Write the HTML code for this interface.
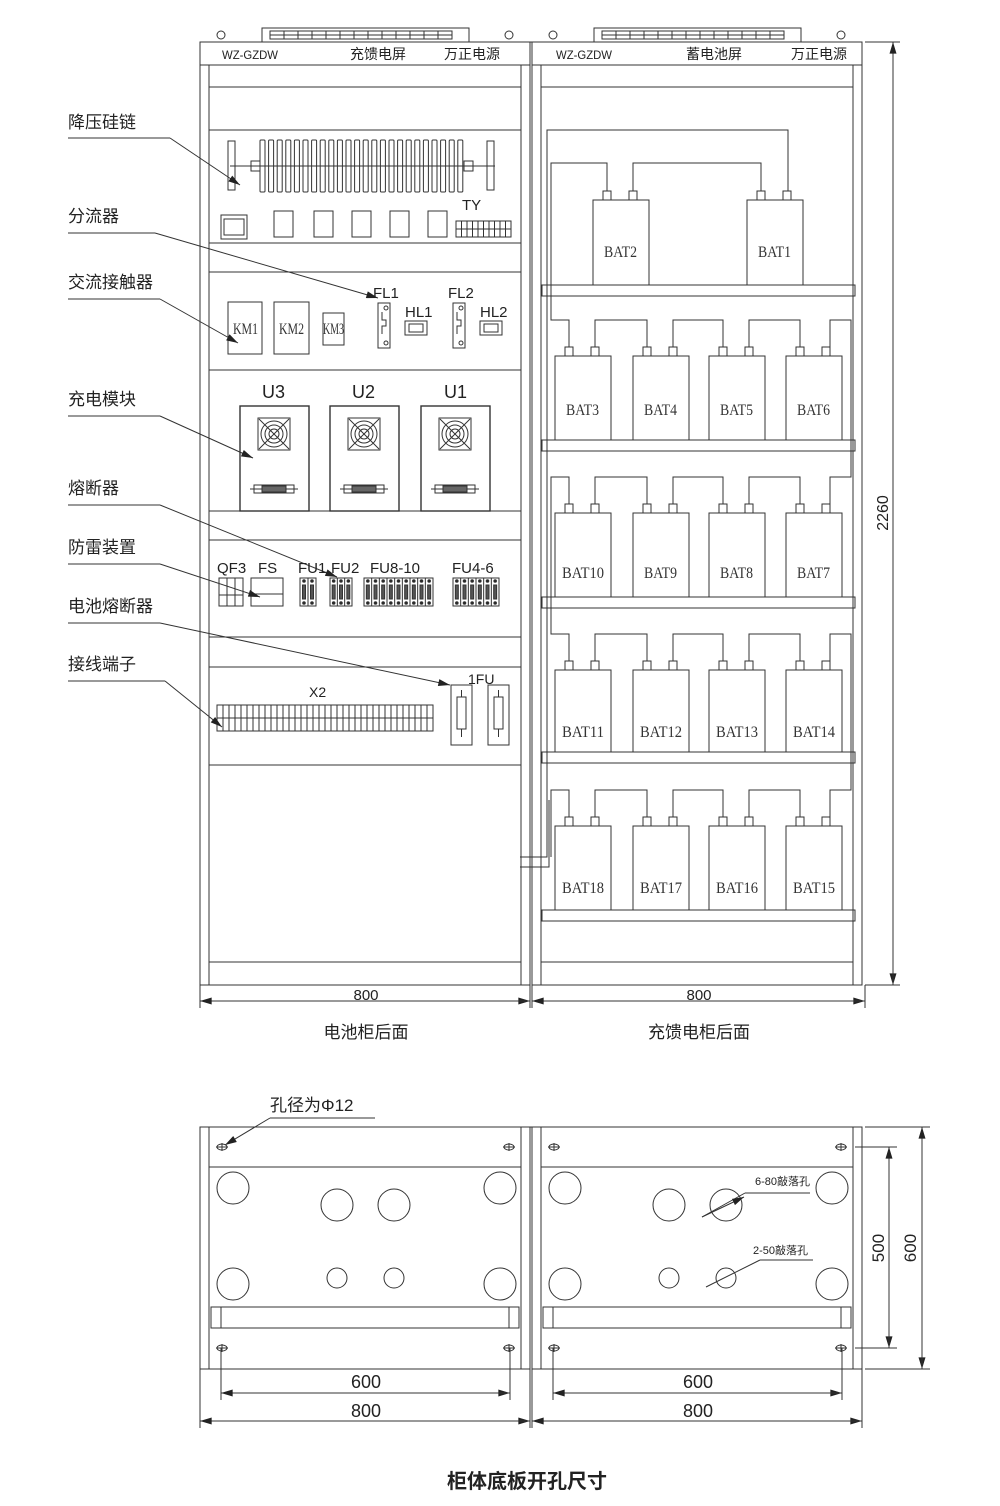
<!DOCTYPE html>
<html><head><meta charset="utf-8"><style>
html,body{margin:0;padding:0;background:#fff}
svg{display:block}
text{font-family:"Liberation Sans","Noto Sans CJK SC",sans-serif;fill:#222}
.cn{font-size:17px}
.bat{font-family:"Liberation Serif","Noto Serif CJK SC",serif;font-size:16px;fill:#333}
</style></head><body>
<svg id="s" width="1000" height="1506" viewBox="0 0 1000 1506" xmlns="http://www.w3.org/2000/svg" fill="none" stroke="#333" stroke-width="1">
<defs>
<marker id="ar" viewBox="0 0 10 6" refX="10" refY="3" markerWidth="16" markerHeight="7" orient="auto" markerUnits="userSpaceOnUse"><path d="M0,0 L10,3 L0,6 Z" fill="#222" stroke="none"/></marker>
</defs>
<g id="g"></g>
<g stroke="none">
<text x="222" y="59" font-size="12" textLength="56" lengthAdjust="spacingAndGlyphs">WZ-GZDW</text>
<text x="350" y="59" font-size="14">充馈电屏</text>
<text x="444" y="59" font-size="14">万正电源</text>
<text x="556" y="59" font-size="12" textLength="56" lengthAdjust="spacingAndGlyphs">WZ-GZDW</text>
<text x="686" y="59" font-size="14">蓄电池屏</text>
<text x="791" y="59" font-size="14">万正电源</text>
<text class="cn" x="68" y="128">降压硅链</text>
<text class="cn" x="68" y="222">分流器</text>
<text class="cn" x="68" y="288">交流接触器</text>
<text class="cn" x="68" y="405">充电模块</text>
<text class="cn" x="68" y="494">熔断器</text>
<text class="cn" x="68" y="553">防雷装置</text>
<text class="cn" x="68" y="612">电池熔断器</text>
<text class="cn" x="68" y="670">接线端子</text>
<text x="462" y="210" font-size="15">TY</text>
<text x="373" y="298" font-size="15">FL1</text>
<text x="448" y="298" font-size="15">FL2</text>
<text x="405" y="317" font-size="15">HL1</text>
<text x="480" y="317" font-size="15">HL2</text>
<text class="bat" x="233" y="334" textLength="25" lengthAdjust="spacingAndGlyphs">KM1</text>
<text class="bat" x="279" y="334" textLength="25" lengthAdjust="spacingAndGlyphs">KM2</text>
<text class="bat" x="323" y="334" textLength="21" lengthAdjust="spacingAndGlyphs">KM3</text>
<text x="262" y="398" font-size="18">U3</text>
<text x="352" y="398" font-size="18">U2</text>
<text x="444" y="398" font-size="18">U1</text>
<text x="217" y="573" font-size="15">QF3</text>
<text x="258" y="573" font-size="15">FS</text>
<text x="298" y="573" font-size="15">FU1</text>
<text x="331" y="573" font-size="15">FU2</text>
<text x="370" y="573" font-size="15">FU8-10</text>
<text x="452" y="573" font-size="15">FU4-6</text>
<text x="309" y="697" font-size="14">X2</text>
<text x="468" y="684" font-size="14">1FU</text>
<text class="bat" x="604" y="257" textLength="33" lengthAdjust="spacingAndGlyphs">BAT2</text>
<text class="bat" x="758" y="257" textLength="33" lengthAdjust="spacingAndGlyphs">BAT1</text>
<text class="bat" x="566" y="415" textLength="33" lengthAdjust="spacingAndGlyphs">BAT3</text>
<text class="bat" x="644" y="415" textLength="33" lengthAdjust="spacingAndGlyphs">BAT4</text>
<text class="bat" x="720" y="415" textLength="33" lengthAdjust="spacingAndGlyphs">BAT5</text>
<text class="bat" x="797" y="415" textLength="33" lengthAdjust="spacingAndGlyphs">BAT6</text>
<text class="bat" x="562" y="578" textLength="42" lengthAdjust="spacingAndGlyphs">BAT10</text>
<text class="bat" x="644" y="578" textLength="33" lengthAdjust="spacingAndGlyphs">BAT9</text>
<text class="bat" x="720" y="578" textLength="33" lengthAdjust="spacingAndGlyphs">BAT8</text>
<text class="bat" x="797" y="578" textLength="33" lengthAdjust="spacingAndGlyphs">BAT7</text>
<text class="bat" x="562" y="737" textLength="42" lengthAdjust="spacingAndGlyphs">BAT11</text>
<text class="bat" x="640" y="737" textLength="42" lengthAdjust="spacingAndGlyphs">BAT12</text>
<text class="bat" x="716" y="737" textLength="42" lengthAdjust="spacingAndGlyphs">BAT13</text>
<text class="bat" x="793" y="737" textLength="42" lengthAdjust="spacingAndGlyphs">BAT14</text>
<text class="bat" x="562" y="893" textLength="42" lengthAdjust="spacingAndGlyphs">BAT18</text>
<text class="bat" x="640" y="893" textLength="42" lengthAdjust="spacingAndGlyphs">BAT17</text>
<text class="bat" x="716" y="893" textLength="42" lengthAdjust="spacingAndGlyphs">BAT16</text>
<text class="bat" x="793" y="893" textLength="42" lengthAdjust="spacingAndGlyphs">BAT15</text>
<text x="366" y="1000" font-size="15" text-anchor="middle">800</text>
<text x="699" y="1000" font-size="15" text-anchor="middle">800</text>
<text x="888" y="513" font-size="16" text-anchor="middle" transform="rotate(-90 888 513)">2260</text>
<text class="cn" x="366" y="1038" text-anchor="middle">电池柜后面</text>
<text class="cn" x="699" y="1038" text-anchor="middle">充馈电柜后面</text>
<text class="cn" x="270" y="1111">孔径为Φ12</text>
<text x="366" y="1388" font-size="18" text-anchor="middle">600</text>
<text x="366" y="1417" font-size="18" text-anchor="middle">800</text>
<text x="698" y="1388" font-size="18" text-anchor="middle">600</text>
<text x="698" y="1417" font-size="18" text-anchor="middle">800</text>
<text x="755" y="1185" font-size="11">6-80敲落孔</text>
<text x="753" y="1254" font-size="11">2-50敲落孔</text>
<text x="884" y="1248" font-size="17" text-anchor="middle" transform="rotate(-90 884 1248)">500</text>
<text x="916" y="1248" font-size="17" text-anchor="middle" transform="rotate(-90 916 1248)">600</text>
<text x="527" y="1488" font-size="20" text-anchor="middle" font-weight="bold">柜体底板开孔尺寸</text>
</g>
</svg>
<script>
var o='';
function L(a,b,c,d,ex){o+='<line x1="'+a+'" y1="'+b+'" x2="'+c+'" y2="'+d+'"'+(ex||'')+'/>';}
function R(x,y,w,h,ex){o+='<rect x="'+x+'" y="'+y+'" width="'+w+'" height="'+h+'"'+(ex||'')+'/>';}
function C(x,y,r,ex){o+='<circle cx="'+x+'" cy="'+y+'" r="'+r+'"'+(ex||'')+'/>';}
function P(d,ex){o+='<path d="'+d+'"'+(ex||'')+'/>';}
var AR=' marker-end="url(#ar)"';
[0,332].forEach(function(dx){
 R(200+dx,42,330,943);
 L(200+dx,65,530+dx,65);
 L(209+dx,65,209+dx,985);L(521+dx,65,521+dx,985);
 L(209+dx,87,521+dx,87);L(209+dx,962,521+dx,962);
 R(262+dx,28,207,14);
 for(var i=0;i<14;i++)L(270+dx+i*14,31,270+dx+i*14,39);
 R(270+dx,31,182,8);L(270+dx,35,452+dx,35);
 C(221+dx,35,4);C(509+dx,35,4);
});
L(530,42,532,42);
R(209,130,312,113);R(209,272,312,98);L(209,370,521,370);L(209,511,521,511);R(209,540,312,97);R(209,667,312,98);
R(228,141,7,49);R(487,141,7,49);L(230,166,495,166);R(251,161,9,10);R(464,161,9,10);
for(var i=0;i<24;i++)R(260+i*8.6,140,5,52,' rx="1"');
R(221,215,26,24);R(224,219,20,16);
[274,314,352,390,428].forEach(function(x){R(x,211,19,26);});
R(456,221,55,16);L(456,229,511,229);for(var i=1;i<10;i++)L(456+i*5.5,221,456+i*5.5,237);
R(228,302,34,52);R(274,302,35,52);R(323,313,21,32);
[378,453].forEach(function(x){R(x,303,12,45);C(x+8,308,2);C(x+8,343,2);P('M'+(x+4)+',312 v8 h4 v6 h-4 v8');});
[405,480].forEach(function(x){R(x,321,22,14);R(x+4,324,14,8);});
[240,330,421].forEach(function(x){R(x,406,69,105,' stroke-width="1.4"');var cx=x+34;R(cx-16,418,32,32);C(cx,434,13);C(cx,434,9);C(cx,434,5);L(cx-15,419,cx+15,449);L(cx+15,419,cx-15,449);
 R(cx-20,485,40,8);L(cx-24,489,cx+24,489);R(cx-12,486,24,6,' fill="#666"');});
R(219,578,24,28);L(219,595,243,595);L(227,578,227,606);L(235,578,235,606);
R(251,578,32,28);L(251,594,283,594);
[[300,316,2],[330,352,3],[364,433,9],[453,499,6]].forEach(function(f){R(f[0],578,f[1]-f[0],28);var n=f[2],w=(f[1]-f[0])/n;for(var i=0;i<n;i++){var x=f[0]+i*w;L(x,578,x,606);R(x+w/2-1.5,585,3,14,' fill="#555"');C(x+w/2,581,1.3,' fill="#222"');C(x+w/2,603,1.3,' fill="#222"');}});
R(217,705,216,26);L(217,718,433,718);for(var i=1;i<36;i++)L(217+i*6,705,217+i*6,731);
[451,488].forEach(function(x){R(x,685,21,60);R(x+6,697,9,32);L(x+10.5,690,x+10.5,697);L(x+10.5,729,x+10.5,737);});
[[68,138,170,138,240,185],[68,233,155,233,378,298],[68,299,160,299,238,343],[68,416,160,416,253,458],[68,505,160,505,337,577],[68,564,160,564,260,597],[68,623,160,623,450,685],[68,681,165,681,222,727]].forEach(function(a){L(a[0],a[1],a[2],a[3]);L(a[2],a[3],a[4],a[5],AR);});
[285,440,597,752,910].forEach(function(y){R(542,y,313,11);});
function bat(x,top,bot){R(x,top,56,bot-top);R(x+10,top-9,8,9);R(x+36,top-9,8,9);}
bat(593,200,285);bat(747,200,285);
var xs=[555,633,709,786];
[[356,440],[513,597],[670,752],[826,910]].forEach(function(r){xs.forEach(function(x){bat(x,r[0],r[1]);});});
P('M788,191 V130 H547 V857 H520');
P('M520,867 H549 V800');
P('M607,191 V163 H551 V320 H569 V347');
P('M633,191 V163 H761 V191');
[320,477,634,790].forEach(function(y){
 for(var i=0;i<3;i++){P('M'+(xs[i]+40)+','+(y+27)+' V'+y+' H'+(xs[i+1]+14)+' V'+(y+27));}
});
P('M830,347 V320 H851 V477 H830 V504');
P('M569,504 V477 H551 V634 H569 V661');
P('M830,661 V634 H851 V790 H830 V817');
P('M569,817 V790 H551 V857');
L(200,985,200,1008);L(530,985,530,1008);L(532,985,532,1008);L(865,985,865,1008);
L(200,1001,530,1001,AR);L(530,1001,200,1001,AR);L(532,1001,865,1001,AR);L(865,1001,532,1001,AR);
L(865,42,900,42);L(865,985,900,985);L(893,42,893,985,AR);L(893,985,893,42,AR);
[0,332].forEach(function(dx){
 R(200+dx,1127,330,242);L(209+dx,1127,209+dx,1369);L(521+dx,1127,521+dx,1369);
 L(209+dx,1167,521+dx,1167);R(211+dx,1307,308,21);L(221+dx,1307,221+dx,1328);L(509+dx,1307,509+dx,1328);
 [[222,1147],[509,1147],[222,1348],[509,1348]].forEach(function(h){o+='<ellipse cx="'+(h[0]+dx)+'" cy="'+h[1]+'" rx="5" ry="3"/>';L(h[0]+dx-6,h[1],h[0]+dx+6,h[1]);L(h[0]+dx,h[1]-4,h[0]+dx,h[1]+4);});
 [[233,1188],[500,1188],[233,1284],[500,1284]].forEach(function(c){C(c[0]+dx,c[1],16);});
 C(337+dx,1205,16);C(394+dx,1205,16);C(337+dx,1278,10);C(394+dx,1278,10);
 L(221+dx,1348,221+dx,1400);L(510+dx,1348,510+dx,1400);L(200+dx,1369,200+dx,1428);L(530+dx,1369,530+dx,1428);
 L(221+dx,1393,510+dx,1393,AR);L(510+dx,1393,221+dx,1393,AR);
 L(200+dx,1421,530+dx,1421,AR);L(530+dx,1421,200+dx,1421,AR);
});
L(530,1127,532,1127);
L(270,1118,375,1118);L(270,1118,225,1145,AR);
L(702,1217,745,1193);L(745,1193,810,1193);L(702,1217,744,1197,AR);
L(706,1287,760,1260);L(760,1260,813,1260);
L(855,1147,897,1147);L(855,1348,897,1348);L(865,1127,930,1127);L(865,1369,930,1369);
L(889,1147,889,1348,AR);L(889,1348,889,1147,AR);L(922,1127,922,1369,AR);L(922,1369,922,1127,AR);
document.getElementById('g').innerHTML=o;
</script>
</body></html>
